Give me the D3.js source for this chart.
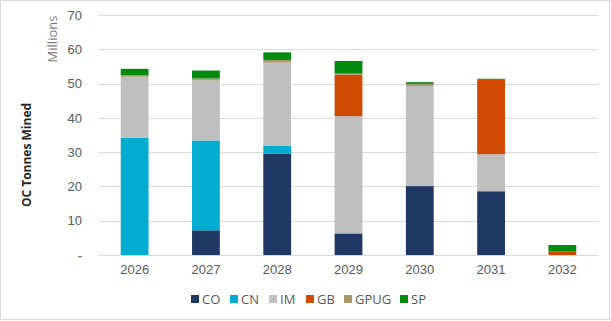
<!DOCTYPE html>
<html>
<head>
<meta charset="utf-8">
<script src="https://cdn.jsdelivr.net/npm/d3@7"></script>
<style>
  body { margin: 0; background: #fff; }
  svg { font-family: "Open Sans", "Noto Sans", sans-serif; }
</style>
</head>
<body>
<div id="chart"></div>
<script>
const years = ['2026', '2027', '2028', '2029', '2030', '2031', '2032'];
const seriesNames = ['CO', 'CN', 'IM', 'GB', 'GPUG', 'SP'];
const CO = [0, 7.2, 29.6, 6.3, 20.1, 18.6, 0];
const CN = [34.2, 26.2, 2.3, 0, 0, 0, 0];
const IM = [17.8, 17.5, 24.2, 34.2, 29.2, 10.8, 0];
const GB = [0, 0, 0, 12.1, 0, 21.7, 1.1];
const GPUG = [0.5, 0.6, 0.8, 0.3, 0.6, 0, 0];
const SP = [1.8, 2.3, 2.2, 3.7, 0.5, 0.3, 1.8];
const yTicks = [0, 10, 20, 30, 40, 50, 60, 70];

const colors = ['#1f3864', '#00acd0', '#bfbfbf', '#d04a02', '#a89a6e', '#008a0e'];

const width = 611, height = 321;
const margin = { left: 99, right: 13, top: 15, bottom: 66 };

const svg = d3.select('#chart').append('svg')
    .attr('width', width)
    .attr('height', height);

svg.append('rect')
    .attr('x', 0.5).attr('y', 0.5)
    .attr('width', width - 2).attr('height', height - 2)
    .attr('fill', '#fff')
    .attr('stroke', '#d9d9d9');

const table = years.map((y, i) => ({
    year: y, CO: CO[i], CN: CN[i], IM: IM[i], GB: GB[i], GPUG: GPUG[i], SP: SP[i]
}));
const stacked = d3.stack().keys(seriesNames)(table);

const x = d3.scaleBand()
    .domain(years)
    .range([margin.left, width - margin.right])
    .paddingInner(0.61)
    .paddingOuter(0.305);

const y = d3.scaleLinear()
    .domain([0, 70])
    .range([height - margin.bottom, margin.top]);

// gridlines
svg.append('g')
    .selectAll('line')
    .data(yTicks)
    .enter()
    .append('line')
    .attr('x1', margin.left)
    .attr('x2', width - margin.right)
    .attr('y1', d => Math.round(y(d)) + 0.5)
    .attr('y2', d => Math.round(y(d)) + 0.5)
    .attr('stroke', '#d9d9d9')
    .attr('stroke-width', 1);

// bars
svg.append('g')
    .selectAll('g')
    .data(stacked)
    .enter()
    .append('g')
    .attr('fill', (d, i) => colors[i])
    .selectAll('rect')
    .data(d => d)
    .enter()
    .append('rect')
    .attr('x', d => x(d.data.year))
    .attr('width', x.bandwidth())
    .attr('y', d => y(d[1]))
    .attr('height', d => Math.max(0, y(d[0]) - y(d[1])));

// y axis labels
const yAxis = d3.axisLeft(y)
    .tickValues(yTicks)
    .tickSize(0)
    .tickPadding(17)
    .tickFormat(d => d === 0 ? '-' : d);

svg.append('g')
    .attr('transform', `translate(${margin.left}, 0)`)
    .call(yAxis)
    .call(g => g.select('.domain').remove())
    .selectAll('text')
    .attr('fill', '#595959')
    .style('font-size', '13px');

// x axis labels
const xAxis = d3.axisBottom(x).tickSize(0).tickPadding(10);
svg.append('g')
    .attr('transform', `translate(0, ${height - margin.bottom})`)
    .call(xAxis)
    .call(g => g.select('.domain').remove())
    .selectAll('text')
    .attr('fill', '#595959')
    .style('font-size', '13px');

// axis titles
svg.append('text')
    .attr('transform', `translate(31, 155) rotate(-90)`)
    .attr('text-anchor', 'middle')
    .attr('fill', '#262626')
    .style('font-size', '12px')
    .style('font-weight', 'bold')
    .text('OC Tonnes Mined');

svg.append('text')
    .attr('transform', `translate(57, 39) rotate(-90)`)
    .attr('text-anchor', 'middle')
    .attr('fill', '#7f7f7f')
    .style('font-size', '13px')
    .text('Millions');

// legend
const legendX = [191, 230, 269, 306, 344, 400];
const legend = svg.append('g')
    .selectAll('g')
    .data(seriesNames)
    .enter()
    .append('g')
    .attr('transform', (d, i) => `translate(${legendX[i]}, 300)`);

legend.append('rect')
    .attr('x', 0).attr('y', -5)
    .attr('width', 8).attr('height', 8)
    .attr('fill', (d, i) => colors[i]);

legend.append('text')
    .attr('x', 11)
    .attr('y', 4)
    .attr('fill', '#595959')
    .style('font-size', '13px')
    .text(d => d);
</script>
</body>
</html>
